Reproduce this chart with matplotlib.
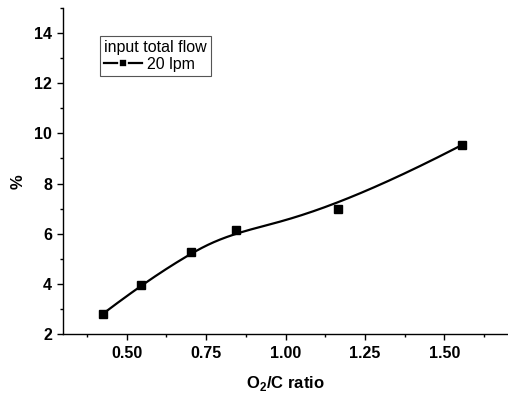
import numpy as np
import matplotlib
matplotlib.use("Agg")
import matplotlib.pyplot as plt
from matplotlib.ticker import MultipleLocator, AutoMinorLocator
from matplotlib.lines import Line2D

# Data
o2c_ratio = [0.425, 0.545, 0.704, 0.845, 1.165, 1.554]
percent = [2.80, 3.95, 5.27, 6.14, 6.98, 9.53]
series_label = "20 lpm"
legend_title = "input total flow"

plt.rcParams["mathtext.fontset"] = "custom"
plt.rcParams["mathtext.bf"] = "Liberation Sans:bold"
plt.rcParams["mathtext.rm"] = "Liberation Sans:bold"


def bspline(cx, cy, n=400, k=3):
    cx = np.asarray(cx, float)
    cy = np.asarray(cy, float)
    m = len(cx)
    inner = np.arange(1, m - k)
    knots = np.concatenate([np.zeros(k + 1), inner, np.full(k + 1, m - k)]).astype(float)
    t = np.linspace(0, m - k, n)
    t[-1] -= 1e-9

    def basis(i, p, tt):
        if p == 0:
            return ((knots[i] <= tt) & (tt < knots[i + 1])).astype(float)
        out = np.zeros_like(tt)
        d1 = knots[i + p] - knots[i]
        d2 = knots[i + p + 1] - knots[i + 1]
        if d1 > 0:
            out += (tt - knots[i]) / d1 * basis(i, p - 1, tt)
        if d2 > 0:
            out += (knots[i + p + 1] - tt) / d2 * basis(i + 1, p - 1, tt)
        return out

    B = np.array([basis(i, k, t) for i in range(m)])
    return B.T @ cx, B.T @ cy


fig = plt.figure(figsize=(5.08, 3.94), dpi=100)
ax = fig.add_axes([63 / 508, 60 / 394, 1 - 63 / 508, (334 - 8) / 394])

sx, sy = bspline(o2c_ratio, percent)
ax.plot(sx, sy, color="black", lw=1.6, zorder=2)
ax.plot(o2c_ratio, percent, ls="none", marker="s", ms=5.5, color="black", zorder=3)

ax.set_xlim(0.30, 1.70)
ax.set_ylim(2, 15)
ax.set_xticks([0.5, 0.75, 1.0, 1.25, 1.5])
ax.xaxis.set_minor_locator(AutoMinorLocator(2))
ax.yaxis.set_major_locator(MultipleLocator(2))
ax.yaxis.set_minor_locator(AutoMinorLocator(2))

for s in ["top", "right"]:
    ax.spines[s].set_visible(False)
for s in ["left", "bottom"]:
    ax.spines[s].set_linewidth(1.0)

ax.tick_params(which="major", direction="out", length=4, width=1.0,
               labelsize=11.5)
ax.tick_params(axis="x", which="major", pad=5)
ax.tick_params(axis="y", which="major", pad=4)
ax.tick_params(which="minor", direction="out", length=2.5, width=1.0)
for lab in ax.get_xticklabels() + ax.get_yticklabels():
    lab.set_fontweight("bold")
    lab.set_family("Liberation Sans")

ax.set_xlabel(r"O$_\mathbf{2}$/C ratio", fontsize=12, fontweight="bold",
              family="Liberation Sans", labelpad=9)
ax.set_ylabel("%", fontsize=12, fontweight="bold", family="Liberation Sans")
ax.yaxis.set_label_coords(-0.085, 0.466)

handle = Line2D([], [], color="black", lw=1.6, marker="s", ms=5.5,
                markeredgecolor="white", markeredgewidth=1.2,
                markerfacecolor="black")
leg = ax.legend([handle], [series_label], title=legend_title,
                loc="upper left", bbox_to_anchor=((100 - 63) / 445, (334 - 36) / 326),
                frameon=True, fancybox=False, framealpha=1,
                prop={"family": "Liberation Sans", "size": 11.5},
                title_fontproperties={"family": "Liberation Sans", "size": 11.5},
                handlelength=2.4, handletextpad=0.3, borderpad=0.25,
                labelspacing=0.1, borderaxespad=0, handleheight=0.6)
leg.get_frame().set_edgecolor("#555555")
leg.get_frame().set_linewidth(0.8)
leg._legend_box.align = "left"

fig.savefig("out.png", dpi=100)
